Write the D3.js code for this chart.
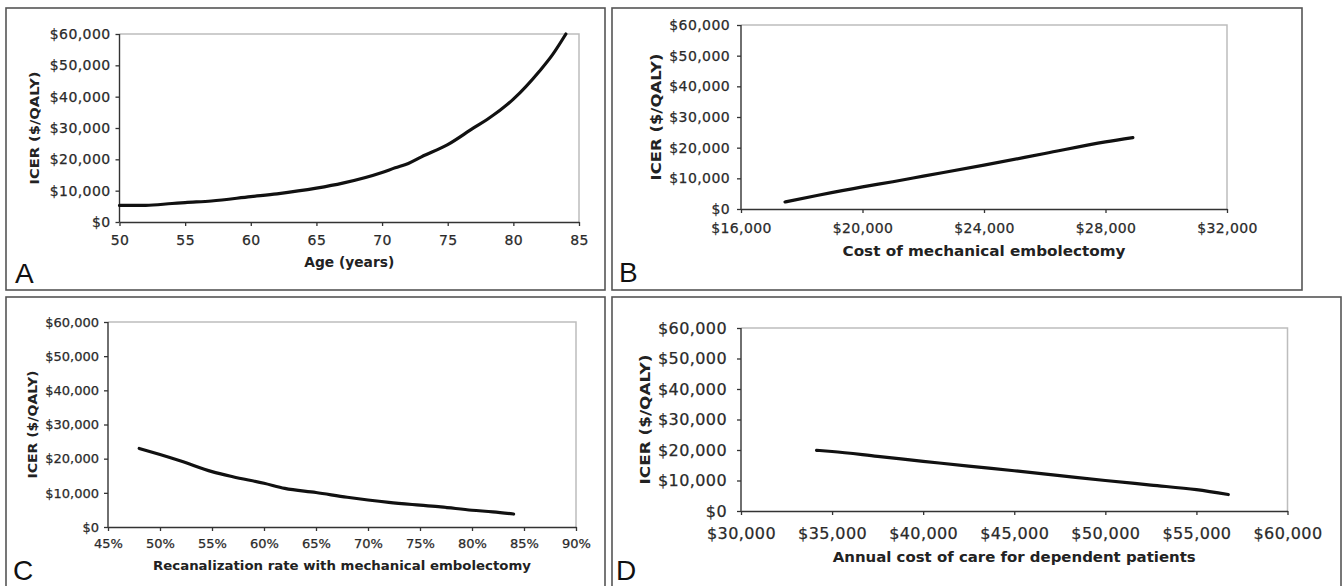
<!DOCTYPE html>
<html>
<head>
<meta charset="utf-8">
<script src="https://cdn.jsdelivr.net/npm/d3@7"></script>
<style>
  html, body { margin: 0; padding: 0; background: #fff; }
  svg { display: block; }
</style>
</head>
<body>
<svg id="chart" width="1344" height="586"></svg>
<script>
// ICER tick values shared by all four panels
const icerTicks = [0, 10000, 20000, 30000, 40000, 50000, 60000];

// Panel A - age
const ageTicks = [50, 55, 60, 65, 70, 75, 80, 85];
const ageX = [50, 52, 54, 55, 57, 60, 62, 65, 67, 70, 71, 72, 73, 75, 77, 78, 80, 82, 83, 84];
const ageIcer = [5300, 5300, 5900, 6200, 6700, 8100, 9000, 10800, 12400, 15800, 17300, 18700, 20800, 24700, 30100, 32700, 39200, 48200, 53500, 60000];

// Panel B - cost of mechanical embolectomy
const costTicks = [16000, 20000, 24000, 28000, 32000];
const costX = [17450, 18500, 20000, 21000, 22000, 24000, 26000, 28000, 28900];
const costIcer = [2300, 4400, 7200, 8900, 10700, 14300, 18100, 21900, 23300];

// Panel C - recanalization rate (%)
const recanTicks = [45, 50, 55, 60, 65, 70, 75, 80, 85, 90];
const recanX = [48, 50, 52, 55, 57, 60, 62, 65, 68, 70, 72, 75, 77, 80, 82, 84];
const recanIcer = [23000, 21200, 19300, 16200, 14700, 12800, 11300, 10100, 8700, 7900, 7200, 6400, 5900, 4900, 4450, 3800];

// Panel D - annual cost of care for dependent patients
const careTicks = [30000, 35000, 40000, 45000, 50000, 55000, 60000];
const careX = [34150, 35000, 37500, 40000, 42500, 45000, 47500, 50000, 52500, 55000, 56750];
const careIcer = [19900, 19500, 17900, 16300, 14700, 13200, 11600, 10000, 8500, 7000, 5400];

const dollar = d3.format('$,');

const panels = [
  {
    letter: 'A', box: [6, 8, 605, 290], letterPos: [15, 283],
    plot: { l: 119.5, r: 579, t: 34, b: 222 },
    xs: ageX, ys: ageIcer, xTicks: ageTicks, xFmt: d => d,
    tickSize: 14, tickSpacing: 0.4, xLabelY: 245, yLabelGap: 9,
    title: 'Age (years)', titleY: 267, titleSize: 13.5, titleLen: 90,
    yTitleX: 35, yTitleSize: 12.5, yTitleLen: 113
  },
  {
    letter: 'B', box: [612, 8, 1302, 290], letterPos: [619, 282],
    plot: { l: 741, r: 1227, t: 25, b: 209 },
    xs: costX, ys: costIcer, xTicks: costTicks, xFmt: dollar,
    tickSize: 14, tickSpacing: 0.4, xLabelY: 233, yLabelGap: 11,
    title: 'Cost of mechanical embolectomy', titleY: 256, titleSize: 14, titleLen: 283,
    yTitleX: 656, yTitleSize: 13.5, yTitleLen: 127
  },
  {
    letter: 'C', box: [6, 297, 605, 600], letterPos: [13, 580],
    plot: { l: 108, r: 576, t: 322, b: 527 },
    xs: recanX, ys: recanIcer, xTicks: recanTicks, xFmt: d => d + '%',
    tickSize: 13, tickSpacing: 0, xLabelY: 548, yLabelGap: 9,
    title: 'Recanalization rate with mechanical embolectomy', titleY: 570, titleSize: 12.5, titleLen: 378,
    yTitleX: 33, yTitleSize: 12, yTitleLen: 108
  },
  {
    letter: 'D', box: [612, 297, 1341, 600], letterPos: [616, 580],
    plot: { l: 741, r: 1287.5, t: 328, b: 511 },
    xs: careX, ys: careIcer, xTicks: careTicks, xFmt: dollar,
    tickSize: 16, tickSpacing: 0.4, xLabelY: 539, yLabelGap: 14,
    title: 'Annual cost of care for dependent patients', titleY: 562, titleSize: 13.5, titleLen: 363,
    yTitleX: 645, yTitleSize: 14, yTitleLen: 130
  }
];

const svg = d3.select('#chart');

panels.forEach(p => {
  const g = svg.append('g');
  const [bx0, by0, bx1, by1] = p.box;

  // panel frame
  g.append('rect')
    .attr('x', bx0).attr('y', by0)
    .attr('width', bx1 - bx0).attr('height', by1 - by0)
    .attr('fill', 'none')
    .attr('stroke', '#555')
    .attr('stroke-width', 1.6);

  const x = d3.scaleLinear()
    .domain(d3.extent(p.xTicks))
    .range([p.plot.l, p.plot.r]);
  const y = d3.scaleLinear()
    .domain(d3.extent(icerTicks))
    .range([p.plot.b, p.plot.t]);

  // plot area border (top and right, light grey)
  g.append('path')
    .attr('d', `M${p.plot.l},${p.plot.t}H${p.plot.r}V${p.plot.b}`)
    .attr('fill', 'none')
    .attr('stroke', '#bdbdbd')
    .attr('stroke-width', 1.5);

  const yAxis = g.append('g')
    .attr('transform', `translate(${p.plot.l},0)`)
    .call(d3.axisLeft(y).tickValues(icerTicks).tickFormat(dollar)
      .tickSize(4).tickPadding(p.yLabelGap - 4));

  const xAxis = g.append('g')
    .attr('transform', `translate(0,${p.plot.b})`)
    .call(d3.axisBottom(x).tickValues(p.xTicks).tickFormat(p.xFmt)
      .tickSize(4).tickSizeOuter(0));

  [yAxis, xAxis].forEach(ax => {
    ax.select('.domain').attr('stroke', '#333').attr('stroke-width', 1.4);
    ax.selectAll('.tick line').attr('stroke', '#333').attr('stroke-width', 1.3);
    ax.selectAll('.tick text')
      .attr('fill', '#2a2a2a')
      .attr('stroke', '#2a2a2a')
      .attr('stroke-width', 0.25)
      .style('font-family', '"DejaVu Sans", Verdana, sans-serif')
      .style('font-size', p.tickSize + 'px')
      .style('letter-spacing', p.tickSpacing + 'px');
  });
  yAxis.select('.domain').attr('d', `M0,${p.plot.t}V${p.plot.b}`);
  xAxis.selectAll('.tick text')
    .attr('dy', null)
    .attr('y', p.xLabelY - p.plot.b);

  // ICER curve
  const pts = p.xs.map((v, i) => [v, p.ys[i]]);
  g.append('path')
    .datum(pts)
    .attr('fill', 'none')
    .attr('stroke', '#111')
    .attr('stroke-width', 3.2)
    .attr('stroke-linejoin', 'round')
    .attr('stroke-linecap', 'round')
    .attr('d', d3.line().x(d => x(d[0])).y(d => y(d[1])).curve(d3.curveMonotoneX));

  // axis titles
  g.append('text')
    .attr('x', (p.plot.l + p.plot.r) / 2)
    .attr('y', p.titleY)
    .attr('text-anchor', 'middle')
    .attr('textLength', p.titleLen)
    .attr('lengthAdjust', 'spacingAndGlyphs')
    .attr('fill', '#222')
    .style('font-family', '"DejaVu Sans", Verdana, sans-serif')
    .style('font-weight', 'bold')
    .style('font-size', p.titleSize + 'px')
    .text(p.title);

  g.append('text')
    .attr('transform', `translate(${p.yTitleX},${(p.plot.t + p.plot.b) / 2}) rotate(-90)`)
    .attr('text-anchor', 'middle')
    .attr('dy', '0.35em')
    .attr('textLength', p.yTitleLen)
    .attr('lengthAdjust', 'spacingAndGlyphs')
    .attr('fill', '#222')
    .style('font-family', '"DejaVu Sans", Verdana, sans-serif')
    .style('font-weight', 'bold')
    .style('font-size', p.yTitleSize + 'px')
    .text('ICER ($/QALY)');

  // panel letter
  g.append('text')
    .attr('x', p.letterPos[0])
    .attr('y', p.letterPos[1])
    .attr('fill', '#111')
    .style('font-family', '"Liberation Sans", Arial, sans-serif')
    .style('font-size', '28px')
    .text(p.letter);
});
</script>
</body>
</html>
